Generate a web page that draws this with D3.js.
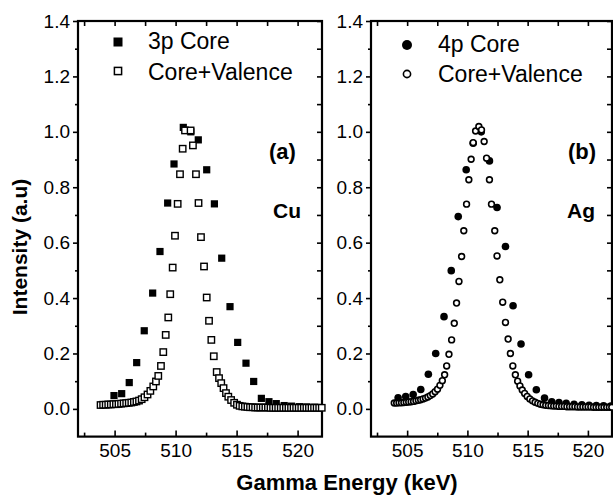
<!DOCTYPE html>
<html>
<head>
<meta charset="utf-8">
<script src="https://cdn.jsdelivr.net/npm/d3@7"></script>
<style>
  body { margin: 0; background: #fff; }
  text { font-family: "Liberation Sans", Arial, sans-serif; fill: #000; }
</style>
</head>
<body>
<div id="chart"></div>
<script>
// Cu (a): 3p core (filled squares)
var cuCoreE = [504.95, 505.58, 506.2, 506.81, 507.43, 508.12, 508.72, 509.35, 509.87, 510.63, 511.25, 511.86,
  512.55, 513.18, 513.78, 514.46, 515.09, 515.77, 516.4, 517.03, 517.65, 518.25, 518.9, 519.5, 520.15, 520.75, 521.4];
var cuCoreI = [0.048, 0.055, 0.095, 0.167, 0.282, 0.418, 0.568, 0.743, 0.884, 1.016, 1.0, 0.971,
  0.863, 0.74, 0.544, 0.369, 0.24, 0.165, 0.099, 0.038, 0.026, 0.019, 0.012, 0.01, 0.008, 0.007, 0.006];

// Cu (a): core + valence (open squares)
var cuCvE = [503.85, 504.06, 504.27, 504.48, 504.69, 504.9, 505.11, 505.32, 505.53, 505.74, 505.95, 506.16,
  506.37, 506.58, 506.79, 507.0, 507.22, 507.45, 507.7, 507.93, 508.17, 508.39, 508.58, 508.8, 508.99, 509.19,
  509.4, 509.56, 509.76, 509.95, 510.17, 510.36, 510.58, 510.77, 511.23, 511.42, 511.67, 511.88, 512.08, 512.33,
  512.55, 512.74, 512.93, 513.13, 513.37, 513.56, 513.74, 513.93, 514.13, 514.32, 514.55, 514.8, 515.03, 515.25,
  515.47, 515.68, 515.89, 516.1, 516.31, 516.52, 516.73, 516.94, 517.15, 517.36, 517.57, 517.78, 517.99, 518.2,
  518.41, 518.62, 518.83, 519.04, 519.25, 519.46, 519.67, 519.88, 520.09, 520.3, 520.51, 520.72, 520.93, 521.14,
  521.35, 521.56, 521.77, 521.98];
var cuCvI = [0.014, 0.015, 0.015, 0.016, 0.016, 0.017, 0.017, 0.018, 0.019, 0.02, 0.021, 0.022,
  0.023, 0.025, 0.027, 0.03, 0.035, 0.042, 0.052, 0.065, 0.081, 0.099, 0.119, 0.155, 0.205, 0.267,
  0.33, 0.414, 0.51, 0.625, 0.74, 0.847, 0.939, 1.005, 1.005, 0.951, 0.847, 0.743, 0.62, 0.514,
  0.402, 0.318, 0.249, 0.19, 0.133, 0.111, 0.093, 0.075, 0.057, 0.044, 0.032, 0.022, 0.015, 0.011,
  0.009, 0.008, 0.007, 0.006, 0.006, 0.005, 0.005, 0.005, 0.005, 0.005, 0.005, 0.004, 0.004, 0.004,
  0.004, 0.004, 0.004, 0.004, 0.004, 0.004, 0.004, 0.004, 0.004, 0.004, 0.004, 0.004, 0.004, 0.004,
  0.004, 0.004, 0.004, 0.004];

// Ag (b): 4p core (filled circles)
var agCoreE = [504.25, 504.88, 505.5, 506.13, 506.76, 507.37, 508.06, 508.66, 509.24, 509.9, 510.48, 511.15,
  511.83, 512.46, 513.16, 513.79, 514.45, 515.08, 515.72, 516.4, 517.0, 517.6, 518.2, 518.85, 519.5, 520.1,
  520.7, 521.3, 521.9];
var agCoreI = [0.04, 0.045, 0.052, 0.07, 0.125, 0.2, 0.333, 0.499, 0.694, 0.863, 0.959, 1.0,
  0.895, 0.727, 0.586, 0.372, 0.234, 0.123, 0.069, 0.039, 0.026, 0.023, 0.02, 0.017, 0.015, 0.013,
  0.012, 0.011, 0.01];

// Ag (b): core + valence (open circles)
var agCvE = [503.93, 504.13, 504.33, 504.53, 504.73, 504.93, 505.13, 505.33, 505.53, 505.73, 505.93, 506.12,
  506.32, 506.52, 506.72, 506.92, 507.12, 507.32, 507.52, 507.72, 507.92, 508.11, 508.28, 508.47, 508.69, 508.91,
  509.1, 509.3, 509.52, 509.7, 509.93, 510.12, 510.31, 510.48, 510.68, 510.95, 511.17, 511.39, 511.59, 511.83,
  512.0, 512.27, 512.46, 512.69, 512.93, 513.16, 513.38, 513.57, 513.77, 513.98, 514.17, 514.36, 514.55, 514.75,
  514.96, 515.18, 515.4, 515.62, 515.84, 516.06, 516.28, 516.5, 516.72, 516.94, 517.16, 517.38, 517.6, 517.82,
  518.04, 518.26, 518.48, 518.7, 518.92, 519.14, 519.36, 519.58, 519.8, 520.02, 520.24, 520.46, 520.68, 520.9,
  521.12, 521.34, 521.56, 521.78, 521.98];
var agCvI = [0.021, 0.021, 0.022, 0.022, 0.023, 0.024, 0.025, 0.026, 0.027, 0.029, 0.031, 0.033,
  0.036, 0.039, 0.043, 0.048, 0.054, 0.062, 0.071, 0.085, 0.102, 0.123, 0.155, 0.197, 0.249, 0.309,
  0.382, 0.46, 0.55, 0.643, 0.739, 0.827, 0.901, 0.961, 1.003, 1.019, 1.007, 0.965, 0.905, 0.827,
  0.739, 0.643, 0.552, 0.466, 0.385, 0.312, 0.252, 0.2, 0.155, 0.123, 0.1, 0.083, 0.068, 0.056,
  0.045, 0.036, 0.029, 0.024, 0.02, 0.017, 0.015, 0.013, 0.012, 0.011, 0.01, 0.01, 0.009, 0.009,
  0.009, 0.008, 0.008, 0.008, 0.008, 0.007, 0.007, 0.007, 0.007, 0.007, 0.007, 0.006, 0.006, 0.006,
  0.006, 0.006, 0.006, 0.006, 0.006];

var xTicks = [505, 510, 515, 520];
var xMinor = [502.5, 507.5, 512.5, 517.5];
var yTicks = [0, 0.2, 0.4, 0.6, 0.8, 1.0, 1.2, 1.4];
var yMinor = [0.1, 0.3, 0.5, 0.7, 0.9, 1.1, 1.3];

var svgWidth = 613;
var svgHeight = 500;

var svg = d3.select("#chart")
  .append("svg")
  .attr("width", svgWidth)
  .attr("height", svgHeight);

var yScale = d3.scaleLinear().domain([-0.1, 1.4]).range([436.6, 21]);
var yTop = yScale(1.4), yBot = yScale(-0.1);

var panels = [
  {left: 78, right: 322, coreE: cuCoreE, coreI: cuCoreI, cvE: cuCvE, cvI: cuCvI, shape: "square",
   legend: ["3p Core", "Core+Valence"], tag: "(a)", elem: "Cu",
   lx: 118, ly: [42, 71], tx: 148, ty: [49, 80], tagX: 269, elemX: 273},
  {left: 371, right: 612, coreE: agCoreE, coreI: agCoreI, cvE: agCvE, cvI: agCvI, shape: "circle",
   legend: ["4p Core", "Core+Valence"], tag: "(b)", elem: "Ag",
   lx: 407, ly: [45, 74], tx: 438, ty: [52, 82], tagX: 568, elemX: 567}
];

function stripDomain(g) { g.select(".domain").remove(); }

panels.forEach(function(p) {
  var x = d3.scaleLinear().domain([502, 522]).range([p.left, p.right]);
  var g = svg.append("g");

  // bottom axis with labels, ticks pointing inside
  g.append("g")
    .attr("transform", `translate(0, ${yBot})`)
    .call(d3.axisBottom(x).tickValues(xTicks).tickSize(-6).tickPadding(7).tickFormat(d3.format("d")))
    .call(stripDomain)
    .call(a => a.selectAll("text").style("font-size", "19px"))
    .call(a => a.selectAll("line").attr("stroke-width", 1.6));
  g.append("g")
    .attr("transform", `translate(0, ${yBot})`)
    .call(d3.axisBottom(x).tickValues(xMinor).tickSize(-4).tickFormat(""))
    .call(stripDomain)
    .call(a => a.selectAll("line").attr("stroke-width", 1.6));

  // top axis
  g.append("g")
    .attr("transform", `translate(0, ${yTop})`)
    .call(d3.axisTop(x).tickValues(xTicks.concat(xMinor)).tickSize(-5).tickFormat(""))
    .call(stripDomain)
    .call(a => a.selectAll("line").attr("stroke-width", 1.6));

  // left axis, ticks outside
  g.append("g")
    .attr("transform", `translate(${p.left}, 0)`)
    .call(d3.axisLeft(yScale).tickValues(yTicks).tickSize(5).tickPadding(3).tickFormat(d3.format(".1f")))
    .call(stripDomain)
    .call(a => a.selectAll("text").style("font-size", "19px"))
    .call(a => a.selectAll("line").attr("stroke-width", 1.6));
  g.append("g")
    .attr("transform", `translate(${p.left}, 0)`)
    .call(d3.axisLeft(yScale).tickValues(yMinor).tickSize(3).tickFormat(""))
    .call(stripDomain)
    .call(a => a.selectAll("line").attr("stroke-width", 1.6));

  // right axis, ticks inside
  g.append("g")
    .attr("transform", `translate(${p.right}, 0)`)
    .call(d3.axisRight(yScale).tickValues(yTicks.concat(yMinor)).tickSize(-5).tickFormat(""))
    .call(stripDomain)
    .call(a => a.selectAll("line").attr("stroke-width", 1.6));

  // frame
  g.append("rect")
    .attr("x", p.left).attr("y", yTop)
    .attr("width", p.right - p.left).attr("height", yBot - yTop)
    .attr("fill", "none").attr("stroke", "#000").attr("stroke-width", 2.2);

  var core = p.coreE.map((e, i) => ({e: e, v: p.coreI[i]}));
  var cv = p.cvE.map((e, i) => ({e: e, v: p.cvI[i]}));

  if (p.shape === "square") {
    g.selectAll(".core").data(core).enter().append("rect")
      .attr("x", d => x(d.e) - 3.6).attr("y", d => yScale(d.v) - 3.6)
      .attr("width", 7.2).attr("height", 7.2).attr("fill", "#000");
    g.selectAll(".cv").data(cv).enter().append("rect")
      .attr("x", d => x(d.e) - 3.2).attr("y", d => yScale(d.v) - 3.2)
      .attr("width", 6.4).attr("height", 6.4)
      .attr("fill", "#fff").attr("stroke", "#000").attr("stroke-width", 1.4);
    // legend
    g.append("rect").attr("x", p.lx - 4.5).attr("y", p.ly[0] - 4.5).attr("width", 9).attr("height", 9).attr("fill", "#000");
    g.append("rect").attr("x", p.lx - 3.6).attr("y", p.ly[1] - 3.6).attr("width", 7.2).attr("height", 7.2)
      .attr("fill", "#fff").attr("stroke", "#000").attr("stroke-width", 1.5);
  } else {
    g.selectAll(".core").data(core).enter().append("circle")
      .attr("cx", d => x(d.e)).attr("cy", d => yScale(d.v)).attr("r", 3.8).attr("fill", "#000");
    g.selectAll(".cv").data(cv).enter().append("circle")
      .attr("cx", d => x(d.e)).attr("cy", d => yScale(d.v)).attr("r", 2.9)
      .attr("fill", "#fff").attr("stroke", "#000").attr("stroke-width", 1.6);
    g.append("circle").attr("cx", p.lx).attr("cy", p.ly[0]).attr("r", 5).attr("fill", "#000");
    g.append("circle").attr("cx", p.lx).attr("cy", p.ly[1]).attr("r", 3.6)
      .attr("fill", "#fff").attr("stroke", "#000").attr("stroke-width", 1.6);
  }

  p.legend.forEach(function(t, i) {
    g.append("text").attr("x", p.tx).attr("y", p.ty[i]).style("font-size", "23px").text(t);
  });
  g.append("text").attr("x", p.tagX).attr("y", 159).style("font-size", "22px").style("font-weight", "bold").text(p.tag);
  g.append("text").attr("x", p.elemX).attr("y", 218).style("font-size", "21px").style("font-weight", "bold").text(p.elem);
});

svg.append("text")
  .attr("x", 347).attr("y", 490)
  .attr("text-anchor", "middle")
  .style("font-size", "22px").style("font-weight", "bold")
  .text("Gamma Energy (keV)");

svg.append("text")
  .attr("transform", "translate(27, 247) rotate(-90)")
  .attr("text-anchor", "middle")
  .style("font-size", "21px").style("font-weight", "bold")
  .text("Intensity (a.u)");
</script>
</body>
</html>
